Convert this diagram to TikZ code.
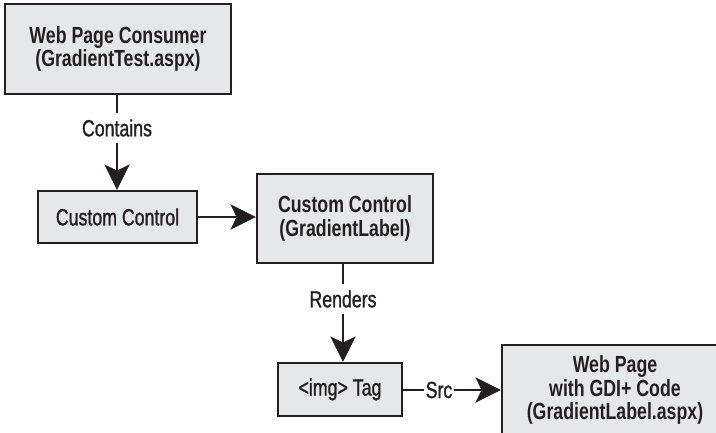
\documentclass[tikz,border=0pt]{standalone}
\usepackage{fontspec}
\setmainfont{Liberation Sans}[FakeStretch=0.76]
\newfontfamily\medfont{Liberation Sans}[FakeStretch=0.76, FakeBold=1.2]
\usetikzlibrary{arrows.meta}
\definecolor{ink}{HTML}{231F20}
\definecolor{boxfill}{HTML}{E6E7E8}
\begin{document}
\begin{tikzpicture}[x=0.75pt,y=-0.75pt,
  every node/.style={font=\fontsize{17.5}{17.5}\selectfont\medfont, text=ink},
  bold/.style={font=\fontsize{17.5}{17.5}\selectfont\rmfamily\bfseries},
  box/.style={draw=ink, fill=boxfill, line width=1.75pt, align=center, inner sep=0pt},
  lbl/.style={inner xsep=1.5pt, inner ysep=4.5pt, outer sep=0pt},
  conn/.style={draw=ink, line width=1.6pt},
  arr/.style={conn, -{Stealth[length=19pt,width=19pt,inset=4.5pt]}}]
\clip (0,0) rectangle (716,432);
\node[box, bold, minimum width=169.5pt, minimum height=67.5pt] (b1) at (118,49) {Web Page Consumer\\(GradientTest.aspx)};
\node[box, minimum width=119.25pt, minimum height=39pt] (b2) at (117.5,217) {Custom Control};
\node[box, bold, minimum width=132pt, minimum height=66.75pt] (b3) at (345,218.5) {Custom Control\\(GradientLabel)};
\node[box, minimum width=93pt, minimum height=39.75pt] (b4) at (340,389.5) {<img> Tag};
\node[box, bold, minimum width=169.5pt, minimum height=67.5pt] (b5) at (615,390) {Web Page\\with GDI+ Code\\(GradientLabel.aspx)};
\node[lbl] (cont) at (117,128) {Contains};
\node[lbl] (rend) at (343,299) {Renders};
\node[lbl] (src) at (439,390) {Src};
\draw[conn] (b1.south -| cont) -- (cont);
\draw[arr] (cont) -- (cont |- b2.north);
\draw[arr] (b2.east) -- (b2.east -| b3.west);
\draw[conn] (b3.south -| rend) -- (rend);
\draw[arr] (rend) -- (rend |- b4.north);
\draw[conn] (b4.east |- src) -- (src);
\draw[arr] (src) -- (src -| b5.west);
\end{tikzpicture}
\end{document}
